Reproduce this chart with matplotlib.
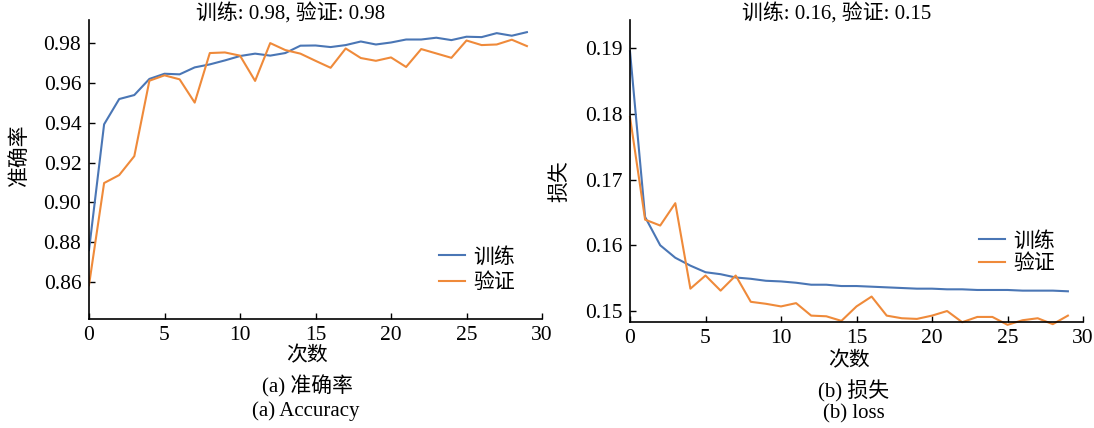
import matplotlib
matplotlib.use("Agg")
import matplotlib.pyplot as plt
import numpy as np

plt.rcParams['font.family'] = ['Liberation Serif', 'Noto Sans CJK SC']
plt.rcParams['font.size'] = 15
plt.rcParams['axes.unicode_minus'] = False

# 数据
epochs = np.arange(30)
train_acc = [0.876, 0.9392, 0.9519, 0.9539, 0.962, 0.9646, 0.9643, 0.9678, 0.9693, 0.9713,
             0.9735, 0.9747, 0.9737, 0.975, 0.9787, 0.9788, 0.978, 0.979, 0.9808, 0.9793,
             0.9803, 0.9818, 0.9818, 0.9827, 0.9815, 0.9832, 0.983, 0.985, 0.9837, 0.9855]
val_acc = [0.8584, 0.9097, 0.9137, 0.9232, 0.9611, 0.9638, 0.9618, 0.9501, 0.975, 0.9753,
           0.9737, 0.961, 0.98, 0.9765, 0.9747, 0.9711, 0.9676, 0.9773, 0.9725, 0.9711,
           0.9728, 0.968, 0.977, 0.9748, 0.9726, 0.9813, 0.979, 0.9793, 0.9817, 0.9785]
train_loss = [0.1895, 0.1643, 0.160, 0.1581, 0.1569, 0.1559, 0.1556, 0.1551, 0.1549, 0.1546,
              0.1545, 0.1543, 0.154, 0.154, 0.1538, 0.1538, 0.1537, 0.1536, 0.1535, 0.1534,
              0.1534, 0.1533, 0.1533, 0.1532, 0.1532, 0.1532, 0.1531, 0.1531, 0.1531, 0.153]
val_loss = [0.1795, 0.1639, 0.163, 0.1664, 0.1534, 0.1554, 0.1531, 0.1554, 0.1514, 0.1511,
            0.1507, 0.1512, 0.1493, 0.1492, 0.1485, 0.1507, 0.1522, 0.1493, 0.1489, 0.1488,
            0.1493, 0.15, 0.1483, 0.1491, 0.1491, 0.1479, 0.1486, 0.1489, 0.148, 0.1493]
labels = ['训练', '验证']
blue = '#4a76b5'
orange = '#ef8a3a'

W, H = 1094, 428
fig = plt.figure(figsize=(W / 100, H / 100), dpi=100)

def px_axes(x0, x1, y0, y1):
    return fig.add_axes([x0 / W, 1 - y1 / H, (x1 - x0) / W, (y1 - y0) / H])

def style(ax):
    for s in ['top', 'right']:
        ax.spines[s].set_visible(False)
    for s in ['left', 'bottom']:
        ax.spines[s].set_linewidth(1.2)
    ax.tick_params(direction='in', length=4.5, width=1, labelsize=15.5)
    ax.tick_params(axis='y', pad=5.5)
    ax.tick_params(axis='x', pad=5)

# (a) 准确率
ax1 = px_axes(89, 542, 20, 319)
ax1.plot(epochs, train_acc, color=blue, lw=1.5, label=labels[0])
ax1.plot(epochs, val_acc, color=orange, lw=1.5, label=labels[1])
ax1.set_xlim(0, 30)
ax1.set_ylim(0.8414, 0.9916)
ax1.set_yticks([0.86, 0.88, 0.90, 0.92, 0.94, 0.96, 0.98])
ax1.set_yticklabels(['0.86', '0.88', '0.90', '0.92', '0.94', '0.96', '0.98'])
ax1.set_xticks([0, 5, 10, 15, 20, 25, 30])
style(ax1)
ax1.legend(loc='center', bbox_to_anchor=(0.856, 0.163), frameon=False, handlelength=1.25,
           handletextpad=0.4, labelspacing=0.28, fontsize=15)

# (b) 损失
ax2 = px_axes(630, 1083, 20, 322)
ax2.plot(epochs, train_loss, color=blue, lw=1.5, label=labels[0], clip_on=False)
ax2.plot(epochs, val_loss, color=orange, lw=1.5, label=labels[1], clip_on=False)
ax2.set_xlim(0, 30)
ax2.set_ylim(0.14833, 0.19426)
ax2.set_yticks([0.15, 0.16, 0.17, 0.18, 0.19])
ax2.set_xticks([0, 5, 10, 15, 20, 25, 30])
style(ax2)
ax2.legend(loc='center', bbox_to_anchor=(0.855, 0.229), frameon=False, handlelength=1.25,
           handletextpad=0.4, labelspacing=0.16, fontsize=15)

# 文本
def ftext(x, y, s, **kw):
    fig.text(x / W, 1 - y / H, s, ha='center', va='center', fontsize=15, **kw)

ftext(291, 14, '训练: 0.98, 验证: 0.98')
ftext(837, 14, '训练: 0.16, 验证: 0.15')
ftext(20, 155, '准确率', rotation=90)
ftext(560, 181, '损失', rotation=90)
ftext(307, 357, '次数')
ftext(307, 386, '(a) 准确率')
ftext(306, 411, '(a) Accuracy')
ftext(849, 362, '次数')
ftext(854, 391, '(b) 损失')
ftext(854, 414, '(b) loss')

fig.savefig('out.png', dpi=100)
